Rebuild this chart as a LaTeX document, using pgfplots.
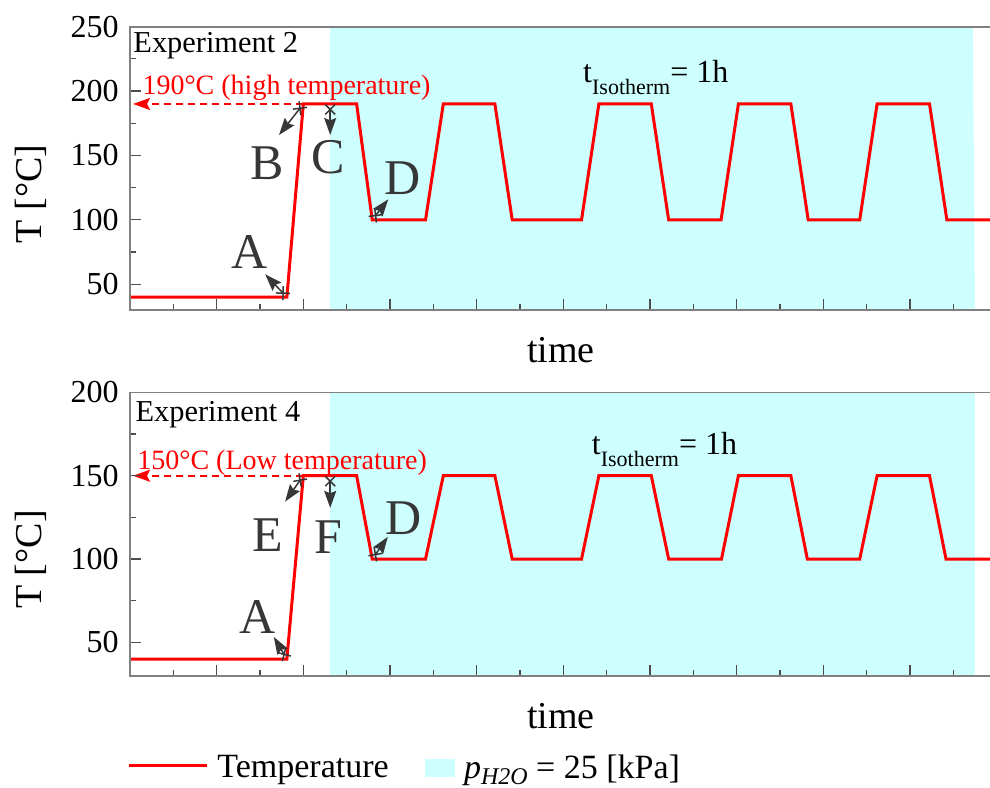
\documentclass[border=0pt]{standalone}
\usepackage{fontspec}
\setmainfont{Liberation Serif}
\usepackage{pgfplots}
\pgfplotsset{compat=1.18}
\usetikzlibrary{arrows.meta}
\definecolor{cyanfill}{RGB}{206,255,255}
\definecolor{axgray}{RGB}{128,128,128}
\definecolor{anngray}{RGB}{55,55,55}
\newcommand{\fs}[1]{\fontsize{#1}{#1}\selectfont}
\pgfplotsset{
  panel/.style={
    scale only axis, width=431pt, height=141.65pt,
    anchor=south west,
    xmin=0, xmax=19.892, ymin=30,
    axis on top,
    axis line style={axgray, line width=0.85pt},
    tick align=inside,
    xtick={2,4,...,18}, minor xtick={1,3,...,19}, xticklabels={},
    xtick pos=left, ytick pos=left,
    major tick length=5.5pt, minor tick length=3pt,
    tick style={draw=black!70, line width=0.6pt},
    /pgf/number format/assume math mode=true,
    yticklabel style={font=\fs{16}, xshift=-2.2pt},
    label style={font=\fs{19}},
    xlabel={time},
    xlabel style={at={(axis description cs:0.5,-0.143)}, anchor=center},
    ylabel={T [°C]},
    ylabel style={at={(axis description cs:-0.1149,0.41)}, anchor=center},
  },
}
\tikzset{
  ann/.style={draw=anngray, line width=0.75pt, {Rays[n=4,length=7pt,width=7pt]}-{Stealth[length=8.5pt,width=6pt,inset=1.2pt]}},
  lab/.style={text=anngray, font=\fs{25}, inner sep=0pt},
  reddash/.style={red, dashed, dash pattern=on 3.5pt off 2.5pt, line width=0.9pt, -{Stealth[length=8.5pt,width=6pt,inset=1.5pt]}},
}
\begin{document}
\begin{tikzpicture}
\path[use as bounding box] (0,0) rectangle (495pt,393.5pt);
% ---------------- top panel ----------------
\begin{axis}[panel, at={(65pt,238.5pt)}, ymax=250,
  ytick={50,100,...,250}, minor ytick={75,125,...,225}]
\addplot[fill=cyanfill, draw=none, forget plot] coordinates {(4.62,30) (4.62,250) (19.45,250) (19.50,30)} -- cycle;
\addplot[red, line width=1.5pt, forget plot] coordinates {
 (0,40) (3.62,40) (4.0,190) (5.23,190) (5.59,100) (6.82,100) (7.23,190) (8.42,190)
 (8.82,100) (10.42,100) (10.82,190) (12.03,190) (12.43,100) (13.64,100) (14.04,190)
 (15.25,190) (15.65,100) (16.84,100) (17.24,190) (18.45,190) (18.85,100) (19.892,100)};
\draw[reddash] (axis cs:4.0,190) -- (axis cs:0.07,190);
\node[anchor=base west, inner sep=0pt, font=\fs{15.2}] at (axis cs:0.07,230.3) {Experiment 2};
\node[anchor=base west, inner sep=0pt, font=\fs{14}, text=red] at (axis cs:0.28,197.3) {190°C (high temperature)};
\node[anchor=base west, inner sep=0pt, font=\fs{16}] at (axis cs:10.45,207.0) {t\raisebox{-6pt}{\fs{11}Isotherm}= 1h};
\draw[ann] (axis cs:3.62,40) -- (axis cs:3.12,57.7);
\node[lab] at (axis cs:2.77,75.0) {A};
\draw[ann] (axis cs:4.0,190) -- (axis cs:3.44,165.9);
\node[lab] at (axis cs:3.16,144.1) {B};
\draw[ann] (axis cs:4.62,190) -- (axis cs:4.62,165.9);
\node[lab] at (axis cs:4.57,148.8) {C};
\draw[ann] (axis cs:5.59,100) -- (axis cs:5.96,116.0);
\node[lab] at (axis cs:6.30,132.5) {D};
\end{axis}
% ---------------- bottom panel ----------------
\begin{axis}[panel, at={(65pt,55.65pt)}, ymax=200,
  ytick={50,100,150,200}, minor ytick={75,125,175},
  legend columns=2,
  legend style={at={(axis description cs:-0.003,-0.306)}, anchor=west,
    draw=none, fill=none, inner sep=0pt, font=\fs{17},
    nodes={inner sep=0pt},
    /tikz/every odd column/.append style={column sep=4.5pt},
    /tikz/every even column/.append style={column sep=18pt}},
  ]
\addplot[fill=cyanfill, draw=none, forget plot] coordinates {(4.62,30) (4.62,200) (19.50,200) (19.50,30)} -- cycle;
\addplot[red, line width=1.5pt, forget plot] coordinates {
 (0,40) (3.62,40) (4.0,150) (5.23,150) (5.59,100) (6.82,100) (7.23,150) (8.42,150)
 (8.82,100) (10.42,100) (10.82,150) (12.03,150) (12.43,100) (13.65,100) (14.04,150)
 (15.25,150) (15.63,100) (16.84,100) (17.24,150) (18.45,150) (18.83,100) (19.892,100)};
\draw[reddash] (axis cs:4.0,150) -- (axis cs:0.07,150);
\node[anchor=base west, inner sep=0pt, font=\fs{15.2}] at (axis cs:0.12,182.6) {Experiment 4};
\node[anchor=base west, inner sep=0pt, font=\fs{14}, text=red] at (axis cs:0.16,153.6) {150°C (Low temperature)};
\node[anchor=base west, inner sep=0pt, font=\fs{16}] at (axis cs:10.65,162.6) {t\raisebox{-6pt}{\fs{11}Isotherm}= 1h};
\draw[ann] (axis cs:3.62,40) -- (axis cs:3.32,53.2);
\node[lab] at (axis cs:2.95,65.3) {A};
\draw[ann] (axis cs:4.0,150) -- (axis cs:3.58,134.5);
\node[lab] at (axis cs:3.18,114.5) {E};
\draw[ann] (axis cs:4.62,150) -- (axis cs:4.62,130.7);
\node[lab] at (axis cs:4.57,113.3) {F};
\draw[ann] (axis cs:5.59,100) -- (axis cs:5.95,113.3);
\node[lab] at (axis cs:6.32,124.7) {D};
\addlegendimage{legend image code/.code={\path[draw=none,fill=none] (0pt,-5pt) rectangle (0pt,12pt); \draw[red, line width=1.5pt] (0pt,1.3pt) -- (38.8pt,1.3pt);}}
\addlegendentry{Temperature}
\addlegendimage{legend image code/.code={\path[draw=none,fill=none] (0pt,-5pt) rectangle (0pt,12pt); \fill[cyanfill] (0pt,-4.5pt) rectangle (14.75pt,4.1pt);}}
\addlegendentry{\textit{p}\raisebox{-3pt}{\fs{12}\textit{H2O}} = 25 [kPa]}
\end{axis}
\end{tikzpicture}
\end{document}
